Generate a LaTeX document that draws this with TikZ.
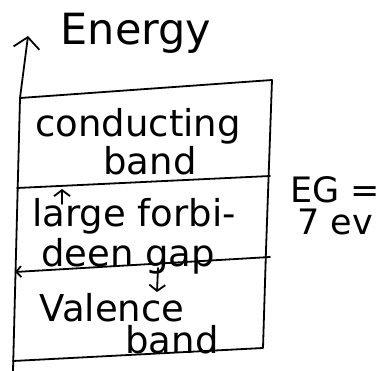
\documentclass[tikz,border=0pt]{standalone}
\usepackage{fontspec}
\setmainfont{DejaVu Sans}
\usetikzlibrary{arrows.meta}

\begin{document}
\begin{tikzpicture}[
  x=1pt, y=-1pt,
  >={Straight Barb[length=5pt,width=11pt]},
  hand/.style={font=\fontsize{37}{40}\selectfont, inner sep=0pt, anchor=base},
  side/.style={font=\fontsize{35}{38}\selectfont, inner sep=0pt, anchor=base west},
  edge/.style={line width=1.8pt, line cap=round, line join=round},
  bigtip/.style={-{Straight Barb[length=11pt,width=26pt]}},
  gaptip/.style={-{Straight Barb[length=6pt,width=16pt]}},
]
\useasboundingbox (0,0) rectangle (390,371);

% ---- energy axis and band box ----
\coordinate (axbase) at (13,371);
\coordinate (tl) at (20,98);
\coordinate (axtip) at (28,36);
\coordinate (tr) at (272,80);
\coordinate (mr) at (266,250);
\coordinate (br) at (263,348);
\coordinate (bl) at (13,361);
\draw[edge,bigtip] (axbase) -- (tl) -- (axtip);
\draw[edge] (tl) -- (tr) -- (mr) -- (br) -- (bl);

% ---- band edges ----
\coordinate (cbl) at (17,188);
\coordinate (cbr) at (270,176);
\coordinate (vbl) at (15,272);
\coordinate (vbr) at (270,257);
\draw[edge] (cbl) -- (cbr);
\draw[edge,<-] (vbl) -- (vbr);

% ---- labels ----
\node[hand, font=\fontsize{43}{46}\selectfont] (energy) at (136,45) {Energy};
\node[hand] (cond) at (138,137) {conducting};
\node[hand] (cband) at (150,175) {band};
\node[hand] (gap1) at (134,226) {large forbi-};
\node[hand] (gap2) at (128,266) {deen gap};
\node[hand] (val) at (112,321) {Valence};
\node[hand] (vband) at (172,353) {band};
\node[side] (eg) at (290,202) {EG =};
\node[side] (ev) at (297,234) {7 ev};

% ---- small arrows in the gap ----
\coordinate (up0) at (62,204);
\coordinate (up1) at (62,189);
\coordinate (dn0) at (158,268);
\coordinate (dn1) at (157,292);
\draw[edge,gaptip] (up0) -- (up1);
\draw[edge,gaptip] (dn0) -- (dn1);
\end{tikzpicture}
\end{document}
